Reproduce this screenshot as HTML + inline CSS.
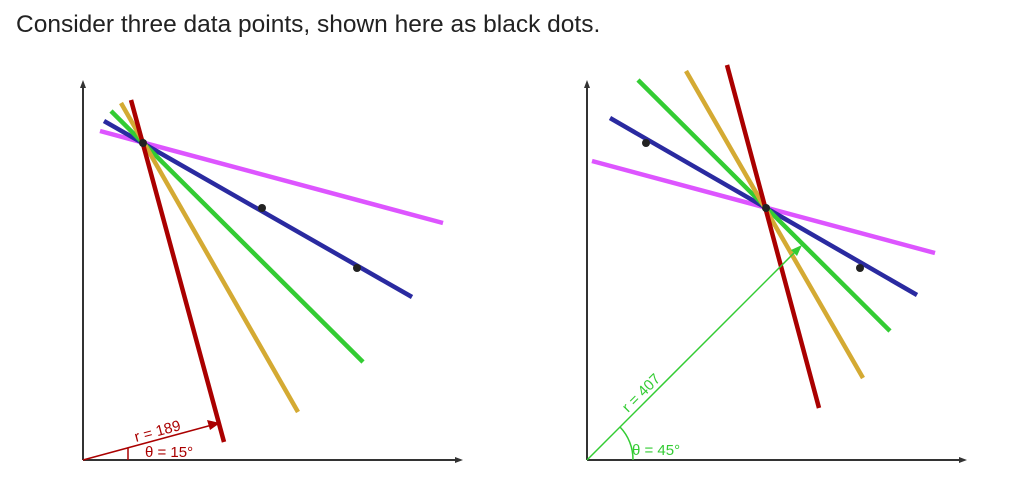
<!DOCTYPE html>
<html><head><meta charset="utf-8"><style>
body{margin:0;background:#fff;width:1029px;height:499px;overflow:hidden;font-family:"Liberation Sans",sans-serif}
#cap{position:absolute;left:16px;top:11px;font-size:24.5px;color:#222}
svg{position:absolute;left:0;top:0}
</style></head><body>
<div id="cap">Consider three data points, shown here as black dots.</div>
<svg id="s" width="1029" height="499"></svg>
<script>
const colors=["#dd55ff","#2a2aa0","#33cc33","#d4aa33","#aa0000"];
const lineNames=["magenta","blue","green","gold","red"];
// line endpoints in data coords (x1,y1,x2,y2), origin bottom-left
const leftLines=[[17,329,360,237],[21,339,329,163],[28,349,280,98],[38,357,215,48],[48,360,141,18]];
const leftPoints=[[60,317],[179,252],[274,192]];
const rightLines=[[5,299,348,207],[23,342,330,165],[51,380,303,129],[99,389,276,82],[140,395,232,52]];
const rightPoints=[[59,317],[179,252],[273,192]];
const panels=[{ox:83,oy:460,lines:leftLines,pts:leftPoints,name:"left"},{ox:587,oy:460,lines:rightLines,pts:rightPoints,name:"right"}];
const NS="http://www.w3.org/2000/svg";
const s=document.getElementById('s');
function mk(t,a){const e=document.createElementNS(NS,t);for(const k in a)e.setAttribute(k,a[k]);s.appendChild(e);return e;}
panels.forEach(p=>{
  const X=v=>p.ox+v, Y=v=>p.oy-v;
  let e=mk('line',{x1:p.ox,y1:p.oy,x2:p.ox+376,y2:p.oy,stroke:'#333','stroke-width':2});
  
  e=mk('polygon',{points:`${p.ox+380},${p.oy} ${p.ox+372},${p.oy-3} ${p.ox+372},${p.oy+3}`,fill:'#333'});
  e=mk('line',{x1:p.ox,y1:p.oy,x2:p.ox,y2:p.oy-376,stroke:'#333','stroke-width':2});
  
  mk('polygon',{points:`${p.ox},${p.oy-380} ${p.ox-3},${p.oy-372} ${p.ox+3},${p.oy-372}`,fill:'#333'});
  p.lines.forEach((l,i)=>{
    const ln=mk('line',{x1:X(l[0]),y1:Y(l[1]),x2:X(l[2]),y2:Y(l[3]),stroke:colors[i],'stroke-width':4.5});
    
    
  });
  p.pts.forEach((q,i)=>{
    const c=mk('circle',{cx:X(q[0]),cy:Y(q[1]),r:4,fill:'#222'});
    
    
  });
});
// left annotation (red, r=189, 15°)
let a=mk('line',{x1:83,y1:460,x2:212,y2:425,stroke:'#aa0000','stroke-width':1.5});

mk('polygon',{points:'220,423 207,420 210,430',fill:'#aa0000'});
mk('path',{d:'M128,448 L128,460',stroke:'#aa0000',fill:'none','stroke-width':1.5});
let t=mk('text',{x:136,y:442,fill:'#aa0000','font-size':15,'font-family':'Liberation Sans, sans-serif',transform:'rotate(-15 136 442)'});t.textContent='r = 189';

t=mk('text',{x:145,y:457,fill:'#aa0000','font-size':15,'font-family':'Liberation Sans, sans-serif'});t.textContent='θ = 15°';

// right annotation (green, r=407, 45°)
a=mk('line',{x1:587,y1:460,x2:796,y2:251,stroke:'#33cc33','stroke-width':1.5});

mk('polygon',{points:'802,245 791,250 797,256',fill:'#33cc33'});
mk('path',{d:'M620,427 A47,47 0 0 1 633,460',stroke:'#33cc33',fill:'none','stroke-width':1.5});
t=mk('text',{x:628,y:413,fill:'#33cc33','font-size':15,'font-family':'Liberation Sans, sans-serif',transform:'rotate(-45 628 413)'});t.textContent='r = 407';

t=mk('text',{x:632,y:455,fill:'#33cc33','font-size':15,'font-family':'Liberation Sans, sans-serif'});t.textContent='θ = 45°';

</script>
</body></html>
